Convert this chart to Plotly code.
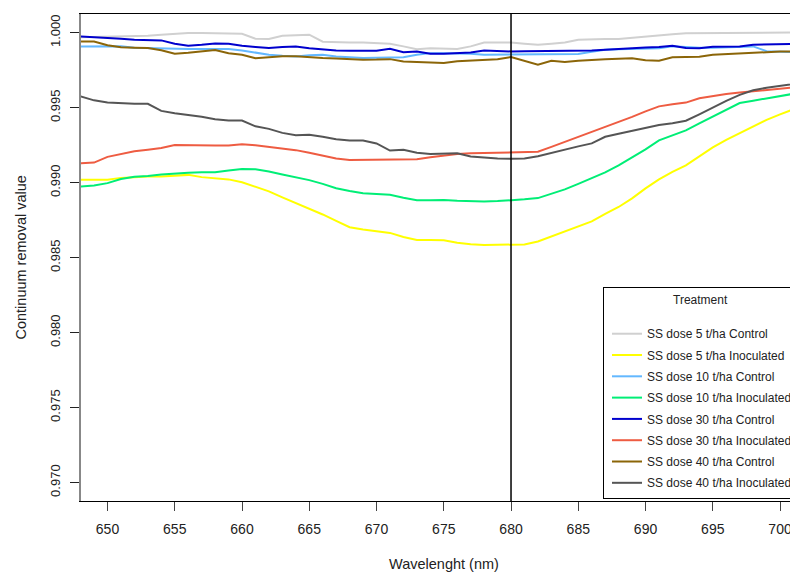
import plotly.graph_objects as go

wavelength = list(range(648, 703))

ss5_control = [0.99970, 0.99971, 0.99973, 0.99973, 0.99975, 0.99980, 0.99987, 0.99993, 0.99998, 0.99998,
               0.99998, 0.99998, 0.99993, 0.99960, 0.99958, 0.99980, 0.99983, 0.99987, 0.99940, 0.99935,
               0.99935, 0.99935, 0.99930, 0.99927, 0.99909, 0.99890, 0.99897, 0.99893, 0.99891, 0.99909,
               0.99935, 0.99935, 0.99935, 0.99927, 0.99920, 0.99927, 0.99935, 0.99953, 0.99957, 0.99958,
               0.99958, 0.99967, 0.99977, 0.99983, 0.99990, 0.99997, 0.99998, 0.99998, 1.00000, 1.00000,
               1.00001, 1.00002, 1.00002, 1.00002, 1.00002]
ss5_inoc = [0.99019, 0.99019, 0.99019, 0.99032, 0.99039, 0.99041, 0.99041, 0.99045, 0.99052, 0.99037,
            0.99029, 0.99022, 0.99003, 0.98975, 0.98942, 0.98902, 0.98865, 0.98828, 0.98788, 0.98745,
            0.98703, 0.98688, 0.98676, 0.98665, 0.98638, 0.98618, 0.98618, 0.98616, 0.98600, 0.98589,
            0.98585, 0.98585, 0.98585, 0.98588, 0.98608, 0.98642, 0.98678, 0.98708, 0.98742, 0.98792,
            0.98838, 0.98895, 0.98962, 0.99022, 0.99072, 0.99115, 0.99176, 0.99236, 0.99286, 0.99329,
            0.99374, 0.99419, 0.99456, 0.99489, 0.99513]
ss10_control = [0.99909, 0.99911, 0.99913, 0.99910, 0.99900, 0.99897, 0.99893, 0.99891, 0.99891, 0.99891,
                0.99890, 0.99891, 0.99882, 0.99866, 0.99853, 0.99846, 0.99842, 0.99850, 0.99853, 0.99842,
                0.99835, 0.99831, 0.99833, 0.99833, 0.99836, 0.99853, 0.99864, 0.99864, 0.99864, 0.99860,
                0.99853, 0.99853, 0.99853, 0.99853, 0.99854, 0.99856, 0.99856, 0.99858, 0.99873, 0.99887,
                0.99890, 0.99891, 0.99891, 0.99897, 0.99910, 0.99903, 0.99900, 0.99900, 0.99903, 0.99905,
                0.99909, 0.99877, 0.99871, 0.99870, 0.99870]
ss10_inoc = [0.98974, 0.98981, 0.98997, 0.99025, 0.99039, 0.99044, 0.99055, 0.99063, 0.99067, 0.99069,
             0.99070, 0.99082, 0.99091, 0.99089, 0.99075, 0.99055, 0.99037, 0.99017, 0.98992, 0.98963,
             0.98945, 0.98930, 0.98924, 0.98919, 0.98899, 0.98883, 0.98882, 0.98885, 0.98880, 0.98875,
             0.98875, 0.98877, 0.98881, 0.98889, 0.98897, 0.98925, 0.98955, 0.98992, 0.99029, 0.99069,
             0.99115, 0.99166, 0.99222, 0.99282, 0.99316, 0.99349, 0.99396, 0.99441, 0.99486, 0.99531,
             0.99547, 0.99564, 0.99579, 0.99593, 0.99599]
ss30_control = [0.99975, 0.99971, 0.99965, 0.99960, 0.99953, 0.99951, 0.99949, 0.99927, 0.99913, 0.99920,
                0.99929, 0.99927, 0.99913, 0.99905, 0.99898, 0.99905, 0.99909, 0.99897, 0.99887, 0.99882,
                0.99880, 0.99880, 0.99880, 0.99893, 0.99870, 0.99875, 0.99860, 0.99860, 0.99863, 0.99868,
                0.99882, 0.99877, 0.99875, 0.99877, 0.99877, 0.99880, 0.99882, 0.99882, 0.99882, 0.99887,
                0.99893, 0.99898, 0.99901, 0.99905, 0.99913, 0.99898, 0.99897, 0.99907, 0.99909, 0.99909,
                0.99920, 0.99923, 0.99922, 0.99925, 0.99925]
ss30_inoc = [0.99130, 0.99134, 0.99172, 0.99192, 0.99209, 0.99219, 0.99231, 0.99251, 0.99249, 0.99248,
             0.99248, 0.99248, 0.99257, 0.99249, 0.99239, 0.99226, 0.99217, 0.99199, 0.99182, 0.99162,
             0.99152, 0.99152, 0.99152, 0.99152, 0.99152, 0.99156, 0.99169, 0.99182, 0.99192, 0.99196,
             0.99199, 0.99202, 0.99204, 0.99204, 0.99206, 0.99239, 0.99272, 0.99302, 0.99339, 0.99372,
             0.99406, 0.99439, 0.99476, 0.99509, 0.99523, 0.99534, 0.99563, 0.99579, 0.99591, 0.99601,
             0.99611, 0.99619, 0.99628, 0.99636, 0.99640]
ss40_control = [0.99942, 0.99942, 0.99917, 0.99903, 0.99900, 0.99898, 0.99883, 0.99860, 0.99866, 0.99877,
                0.99885, 0.99863, 0.99853, 0.99830, 0.99838, 0.99843, 0.99844, 0.99835, 0.99831, 0.99828,
                0.99823, 0.99820, 0.99821, 0.99824, 0.99808, 0.99806, 0.99802, 0.99798, 0.99810, 0.99816,
                0.99818, 0.99823, 0.99838, 0.99810, 0.99786, 0.99813, 0.99805, 0.99813, 0.99820, 0.99823,
                0.99826, 0.99830, 0.99816, 0.99813, 0.99836, 0.99838, 0.99840, 0.99853, 0.99856, 0.99860,
                0.99865, 0.99870, 0.99875, 0.99875, 0.99875]
ss40_inoc = [0.99576, 0.99549, 0.99534, 0.99528, 0.99526, 0.99526, 0.99479, 0.99463, 0.99453, 0.99439,
             0.99423, 0.99415, 0.99415, 0.99376, 0.99359, 0.99332, 0.99316, 0.99319, 0.99306, 0.99289,
             0.99281, 0.99281, 0.99262, 0.99214, 0.99219, 0.99199, 0.99192, 0.99192, 0.99196, 0.99174,
             0.99166, 0.99161, 0.99159, 0.99162, 0.99176, 0.99199, 0.99222, 0.99242, 0.99262, 0.99306,
             0.99326, 0.99344, 0.99366, 0.99385, 0.99397, 0.99413, 0.99456, 0.99503, 0.99546, 0.99586,
             0.99616, 0.99633, 0.99646, 0.99660, 0.99670]

series_names = ["SS dose 5 t/ha Control", "SS dose 5 t/ha Inoculated",
                "SS dose 10 t/ha Control", "SS dose 10 t/ha Inoculated",
                "SS dose 30 t/ha Control", "SS dose 30 t/ha Inoculated",
                "SS dose 40 t/ha Control", "SS dose 40 t/ha Inoculated"]
series_values = [ss5_control, ss5_inoc, ss10_control, ss10_inoc,
                 ss30_control, ss30_inoc, ss40_control, ss40_inoc]
series_colors = ["#D0D0D0", "#FFFF00", "#63B8FF", "#00EE76",
                 "#0000CD", "#EE5C42", "#8B6508", "#555555"]

x_ticks = [650, 655, 660, 665, 670, 675, 680, 685, 690, 695, 700]
y_ticks = [0.970, 0.975, 0.980, 0.985, 0.990, 0.995, 1.000]
y_ticklabels = ["0.970", "0.975", "0.980", "0.985", "0.990", "0.995", "1.000"]
ref_wavelength = 680

FONT = "Liberation Sans, Arial, sans-serif"

fig = go.Figure()
for i, (name, vals, col) in enumerate(zip(series_names, series_values, series_colors)):
    fig.add_trace(go.Scatter(x=wavelength, y=vals, mode="lines", name=name,
                             line=dict(color=col, width=2), legendgroup="g%d" % i))

fig.add_shape(type="line", xref="x", yref="paper", x0=ref_wavelength, x1=ref_wavelength,
              y0=0, y1=1, line=dict(color="black", width=1.5))

fig.update_layout(
    width=798, height=572,
    margin=dict(l=73, r=0, t=6, b=79),
    paper_bgcolor="white", plot_bgcolor="white",
    font=dict(family=FONT, color="#222222"),
    showlegend=True,
    legend=dict(
        x=0.72, y=0.4394, xanchor="left", yanchor="top",
        bgcolor="white", bordercolor="black", borderwidth=1,
        font=dict(size=12, family=FONT, color="#222222"),
        title=dict(text="Treatment<br> ", side="top center", font=dict(size=12, family=FONT)),
        tracegroupgap=2.3, indentation=3,
    ),
    xaxis=dict(range=[648.03, 701.93], tickvals=x_ticks, showgrid=False, zeroline=False,
               showline=True, linecolor="black", linewidth=1.3, mirror=True,
               ticks="outside", ticklen=9, tickcolor="#444444", tickwidth=1,
               tickfont=dict(size=14, family=FONT, color="#222222"), ticklabelstandoff=6),
    yaxis=dict(range=[0.96877, 1.00125], tickvals=y_ticks, ticktext=y_ticklabels,
               showgrid=False, zeroline=False, showline=True, linecolor="#888888", linewidth=1.5,
               ticks="outside", ticklen=9, tickcolor="#222222", tickwidth=1, tickangle=-90,
               tickfont=dict(size=13, family=FONT, color="#222222"), ticklabelstandoff=5),
    annotations=[
        dict(text="Wavelenght (nm)", xref="paper", yref="paper", x=0.5007, y=-0.1294,
             xanchor="center", yanchor="middle", showarrow=False,
             font=dict(size=14.5, family=FONT, color="#222222")),
        dict(text="Continuum removal value", xref="paper", yref="paper", x=-0.0841, y=0.5,
             xanchor="center", yanchor="middle", showarrow=False, textangle=-90,
             font=dict(size=14.5, family=FONT, color="#222222")),
    ],
)

fig.write_html("out.html")
